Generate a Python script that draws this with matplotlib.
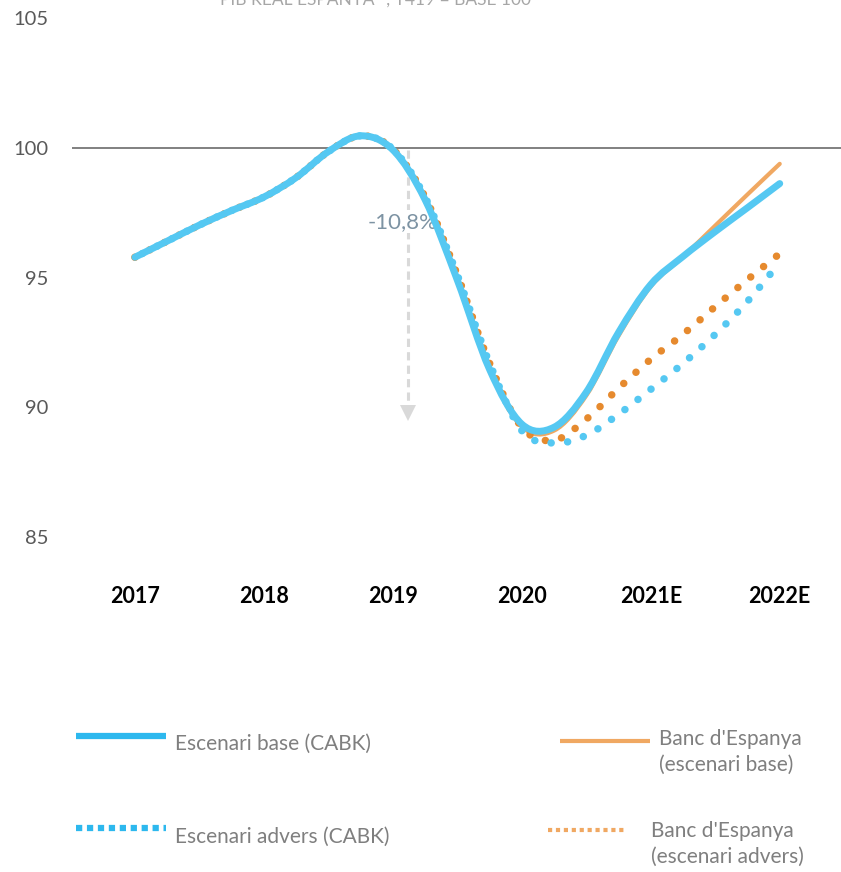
import matplotlib.pyplot as plt
import numpy as np
from matplotlib.path import Path
from matplotlib.patches import PathPatch
from matplotlib.lines import Line2D

# ==========================================
# 1. DATA (PIB real, T4 2019 = base 100, quarterly)
# ==========================================
year_labels = ['2017', '2018', '2019', '2020', '2021E', '2022E']
quarters = list(range(21))  # 2017 .. 2022E, four quarters per label

base_cabk = [95.78, 96.40, 97.02, 97.58, 98.10, 98.85, 99.85, 100.46, 99.92,
             98.0, 94.9, 91.46, 89.35, 89.23, 90.58, 92.88, 94.73, 95.81,
             96.77, 97.69, 98.62]
base_bde = [95.78, 96.40, 97.02, 97.58, 98.10, 98.85, 99.85, 100.46, 99.92,
            98.0, 94.9, 91.46, 89.25, 89.10, 90.45, 92.75, 94.65, 95.80,
            97.0, 98.2, 99.38]
advers_cabk = [95.78, 96.40, 97.02, 97.58, 98.10, 98.85, 99.85, 100.46, 99.95,
               98.1, 95.1, 91.7, 89.1, 88.62, 88.92, 89.73, 90.69, 91.69,
               92.81, 94.08, 95.58]
advers_bde = [95.78, 96.40, 97.02, 97.58, 98.10, 98.85, 99.85, 100.46, 99.95,
              98.1, 95.1, 91.7, 89.23, 88.73, 89.54, 90.73, 91.85, 92.81,
              93.88, 94.92, 95.92]

drop_label = '-10,8%'

BLUE = '#55C8F2'
BLUE_LEG = '#2DB8EE'
ORANGE = '#F0A862'
ORANGE_DOT = '#E68A2E'
GREY_TXT = '#7F7F7F'
FONT = 'Lato'


def smooth_path(xs, ys):
    # Excel-like smoothed line: Catmull-Rom segments as cubic Bezier curves
    pts = np.column_stack([xs, ys]).astype(float)
    n = len(pts)
    verts = [pts[0]]
    codes = [Path.MOVETO]
    for i in range(n - 1):
        p0 = pts[i - 1] if i > 0 else pts[i]
        p1, p2 = pts[i], pts[i + 1]
        p3 = pts[i + 2] if i + 2 < n else pts[i + 1]
        verts += [p1 + (p2 - p0) / 6, p2 - (p3 - p1) / 6, p2]
        codes += [Path.CURVE4] * 3
    return Path(verts, codes)


# ==========================================
# 2. FIGURE
# ==========================================
W, H = 841, 872
fig = plt.figure(figsize=(W / 100, H / 100), dpi=100)
ax = fig.add_axes([72 / W, 1 - 537 / H, 1 - 72 / W, (537 - 18) / H])
ax.set_xlim(-1.95, 21.9)
ax.set_ylim(85, 105)

for s in ax.spines.values():
    s.set_visible(False)
ax.axhline(100, color='#808080', lw=1.4, zorder=1)

ax.set_yticks([85, 90, 95, 100, 105])
ax.set_yticklabels(['85', '90', '95', '100', '105'], fontsize=14.5,
                   color='#595959', fontfamily=FONT)
ax.set_xticks(quarters[::4])
ax.set_xticklabels(year_labels, fontsize=15.5, fontweight='bold',
                   color='black', fontfamily=FONT)
ax.tick_params(axis='both', length=0)
ax.tick_params(axis='y', pad=17)
ax.tick_params(axis='x', pad=35)

# drop arrow + label
ax.plot([8.47, 8.47], [99.9, 90.1], color='#D9D9D9', lw=2.2,
        dashes=(2.7, 1.7), zorder=1)
ax.plot([8.47], [89.78], marker='v', markersize=11, color='#D9D9D9',
        markeredgewidth=0, zorder=1)
ax.text(8.31, 97.15, drop_label, ha='center', va='center', fontsize=16,
        color='#7D93A3', fontfamily=FONT, zorder=2,
        bbox=dict(facecolor='white', edgecolor='none', pad=1))

# series
ax.add_patch(PathPatch(smooth_path(quarters, base_bde), fill=False,
                       edgecolor=ORANGE, lw=3.0, capstyle='round', zorder=3))
ax.add_patch(PathPatch(smooth_path(quarters, advers_bde), fill=False,
                       edgecolor=ORANGE_DOT, lw=5.4, capstyle='round',
                       linestyle=(0, (0.01, 2.2)), zorder=4))
ax.add_patch(PathPatch(smooth_path(quarters, advers_cabk), fill=False,
                       edgecolor=BLUE, lw=5.4, capstyle='round',
                       linestyle=(1.1, (0.01, 2.2)), zorder=5))
ax.add_patch(PathPatch(smooth_path(quarters, base_cabk), fill=False,
                       edgecolor=BLUE, lw=5.0, capstyle='round',
                       joinstyle='round', zorder=6))

# title (cut at the top in the original)
fig.text(220 / W, 1 - 5 / H, 'PIB REAL ESPANYA *, T419 = BASE 100',
         ha='left', va='baseline', fontsize=12.5, color='#A6A6A6',
         fontfamily=FONT)

# ==========================================
# 3. LEGEND (manual placement)
# ==========================================
def fx(px):
    return px / W


def fy(py):
    return 1 - py / H


fig.add_artist(Line2D([fx(76), fx(166)], [fy(736), fy(736)], color=BLUE_LEG,
                      lw=4.5, solid_capstyle='butt'))
fig.text(fx(175), fy(744), 'Escenari base (CABK)', ha='left', va='center',
         fontsize=15, color=GREY_TXT, fontfamily=FONT)

fig.add_artist(Line2D([fx(76), fx(166)], [fy(828), fy(828)], color=BLUE_LEG,
                      lw=4.5, dashes=(1.0, 0.75), dash_capstyle='butt'))
fig.text(fx(175), fy(837), 'Escenari advers (CABK)', ha='left',
         va='center', fontsize=15, color=GREY_TXT, fontfamily=FONT)

fig.add_artist(Line2D([fx(560), fx(650)], [fy(741), fy(741)], color=ORANGE,
                      lw=3.0, solid_capstyle='butt'))
fig.text(fx(659), fy(752), "Banc d'Espanya\n(escenari base)", ha='left',
         va='center', fontsize=15, color=GREY_TXT, fontfamily=FONT,
         linespacing=1.35)

fig.add_artist(Line2D([fx(548), fx(626)], [fy(830), fy(830)], color=ORANGE,
                      lw=3.0, dashes=(1.0, 0.9), dash_capstyle='butt'))
fig.text(fx(651), fy(844), "Banc d'Espanya\n(escenari advers)", ha='left',
         va='center', fontsize=15, color=GREY_TXT, fontfamily=FONT,
         linespacing=1.35)

plt.savefig('out.png', dpi=100)
